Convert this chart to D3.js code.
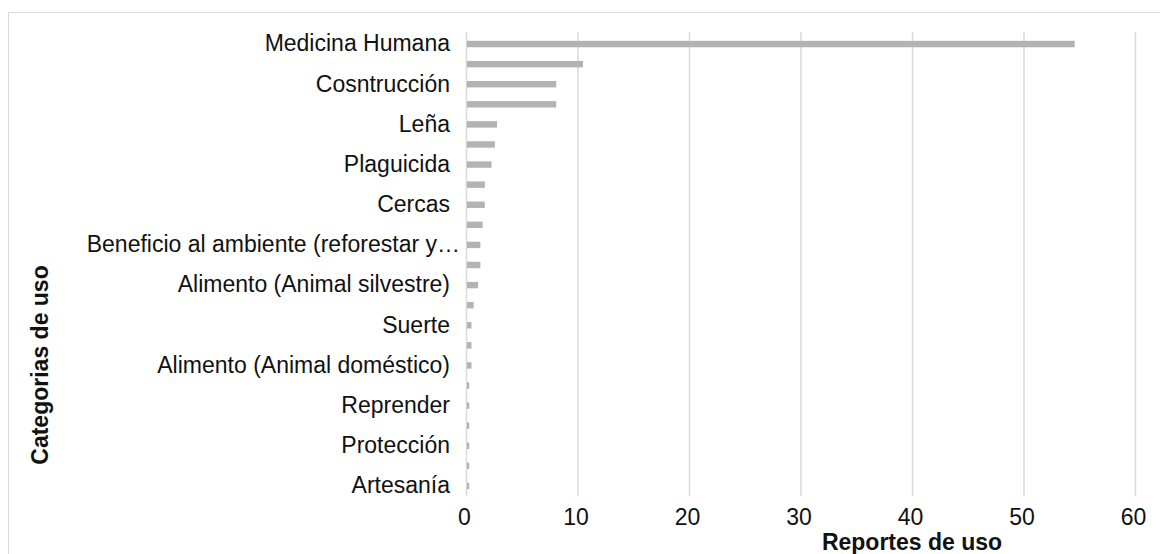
<!DOCTYPE html>
<html>
<head>
<meta charset="utf-8">
<script src="https://cdn.jsdelivr.net/npm/d3@7"></script>
<style>
  html, body { margin: 0; padding: 0; background: #fff; }
  svg { display: block; font-family: "Liberation Sans", Arial, sans-serif; }
</style>
</head>
<body>
<svg id="chart" width="1160" height="554"></svg>
<script>
// Categories (only every second label is shown in the original chart)
const categories = [
  "Medicina Humana", "", "Cosntrucción", "", "Leña", "", "Plaguicida", "",
  "Cercas", "", "Beneficio al ambiente (reforestar y…", "", "Alimento (Animal silvestre)", "",
  "Suerte", "", "Alimento (Animal doméstico)", "", "Reprender", "", "Protección", "", "Artesanía"
];
const values = [
  54.5, 10.4, 8.0, 8.0, 2.7, 2.5, 2.2, 1.6,
  1.6, 1.4, 1.2, 1.2, 1.0, 0.6,
  0.4, 0.4, 0.4, 0.2, 0.2, 0.2, 0.2, 0.2, 0.2
];
const xTicks = [0, 10, 20, 30, 40, 50, 60];
const xTitle = "Reportes de uso";
const yTitle = "Categorias de uso";

const svg = d3.select("#chart");
const W = 1160, H = 554;
const FS = 23;

svg.append("rect").attr("width", W).attr("height", H).attr("fill", "#fff");
svg.append("rect")
  .attr("x", 8.5).attr("y", 12.5).attr("width", W).attr("height", H)
  .attr("fill", "none").attr("stroke", "#d9d9d9").attr("stroke-width", 1);

const plot = { left: 466, right: 1135, top: 34, bottom: 496 };

const x = d3.scaleLinear().domain([0, 60]).range([plot.left, plot.right]);
const idx = categories.map((d, i) => i);
const y = d3.scaleBand().domain(idx).range([plot.top, plot.bottom])
  .paddingInner(0.68).paddingOuter(0.34);

// gridlines
const gx = d3.axisBottom(x).tickValues(xTicks).tickSize(-(plot.bottom - plot.top + 2)).tickFormat("");
svg.append("g").attr("transform", `translate(0,${plot.bottom})`).call(gx)
  .call(g => g.select(".domain").remove())
  .call(g => g.selectAll("line").attr("stroke", "#d9d9d9").attr("stroke-width", 1.5));

// bars
svg.append("g").selectAll("rect").data(values).join("rect")
  .attr("x", x(0) + 1)
  .attr("y", (d, i) => y(i))
  .attr("width", d => x(d) - x(0))
  .attr("height", y.bandwidth())
  .attr("fill", "#b3b3b3");

// y axis labels
const ay = d3.axisLeft(y).tickSize(0).tickPadding(16)
  .tickValues(idx.filter(i => categories[i] !== ""))
  .tickFormat(i => categories[i]);
svg.append("g").attr("transform", `translate(${plot.left},0)`).call(ay)
  .call(g => g.select(".domain").remove())
  .call(g => g.selectAll("text").attr("font-size", FS).attr("fill", "#111")
    .attr("font-family", "'Liberation Sans', Arial, sans-serif")
    .attr("dx", function() { return this.textContent.endsWith("…") ? 10 : 0; }));

// x axis labels
const ax = d3.axisBottom(x).tickValues(xTicks).tickSize(0).tickPadding(13);
svg.append("g").attr("transform", `translate(-2,${plot.bottom})`).call(ax)
  .call(g => g.select(".domain").remove())
  .call(g => g.selectAll("text").attr("font-size", FS).attr("fill", "#111")
    .attr("font-family", "'Liberation Sans', Arial, sans-serif"));

// titles
svg.append("text").attr("x", x(40)).attr("y", 550)
  .attr("text-anchor", "middle").attr("font-weight", "bold").attr("font-size", FS)
  .attr("fill", "#111").text(xTitle);
svg.append("text").attr("transform", "translate(48,365) rotate(-90)")
  .attr("text-anchor", "middle").attr("font-weight", "bold").attr("font-size", FS)
  .attr("fill", "#111").text(yTitle);
</script>
</body>
</html>
